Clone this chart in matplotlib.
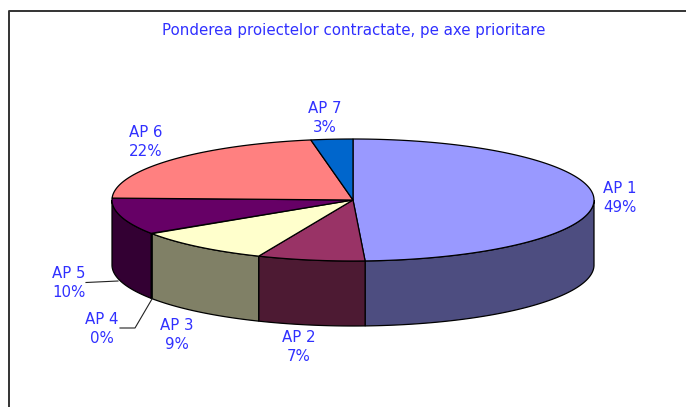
import numpy as np
import matplotlib
matplotlib.use('Agg')
import matplotlib.pyplot as plt
from matplotlib.patches import Polygon

categories = ['AP 1', 'AP 2', 'AP 3', 'AP 4', 'AP 5', 'AP 6', 'AP 7']
values = [49.2, 7.2, 9.3, 0.1, 9.7, 21.7, 2.8]
title = 'Ponderea proiectelor contractate, pe axe prioritare'

top_colors = ['#9999FF', '#993366', '#FFFFCC', '#CCFFFF', '#660066', '#FF8080', '#0066CC']
side_colors = ['#4D4D80', '#4D1A33', '#808066', '#668080', '#330033', '#804040', '#003366']
label_pos = [(620, 198), (299, 347), (177, 335), (102, 329), (69, 283), (146, 142), (325, 118)]

text_color = '#3030FF'
cx, cy, rx, ry, depth = 353, 200, 241, 61, 65


def rim(a0, a1):
    # angles are clockwise from the top of the pie
    t = np.radians(np.linspace(a0, a1, max(int(abs(a1 - a0) * 2), 2)))
    return np.column_stack([cx + rx * np.sin(t), cy - ry * np.cos(t)])


fig = plt.figure(figsize=(6.86, 4.07), dpi=100)
ax = fig.add_axes([0, 0, 1, 1])
ax.set_xlim(0, 686)
ax.set_ylim(407, 0)
ax.axis('off')

# frame, open on the right and bottom like the cropped original
ax.plot([8.5, 8.5, 686], [407, 10.5, 10.5], color='#333333', lw=1.4, solid_capstyle='butt')

edges = np.cumsum([0] + values) / sum(values) * 360

# side walls first, only the front half of the pie shows them
for i in range(len(values)):
    a0, a1 = max(edges[i], 90), min(edges[i + 1], 270)
    if a1 <= a0:
        continue
    arc = rim(a0, a1)
    wall = np.vstack([arc, (arc + [0, depth])[::-1]])
    ax.add_patch(Polygon(wall, closed=True, fc=side_colors[i], ec='black', lw=0.9, zorder=2))

for i in range(len(values)):
    if values[i] < 0.5:
        continue
    wedge = np.vstack([[cx, cy], rim(edges[i], edges[i + 1])])
    ax.add_patch(Polygon(wedge, closed=True, fc=top_colors[i], ec='black', lw=0.9, zorder=3))

ax.text(353.5, 30, title, color=text_color, fontsize=10.8, ha='center', va='center')

for name, val, (x, y) in zip(categories, values, label_pos):
    ax.text(x, y, f'{name}\n{val:.0f}%', color=text_color, fontsize=10.8,
            ha='center', va='center', linespacing=1.4)

# leader lines for the two small labels
ax.plot([86, 118], [282.5, 281], color='#222222', lw=0.8)
ax.plot([120, 135, 152], [328, 328, 299], color='#222222', lw=0.8)

fig.savefig('out.png', dpi=100)
